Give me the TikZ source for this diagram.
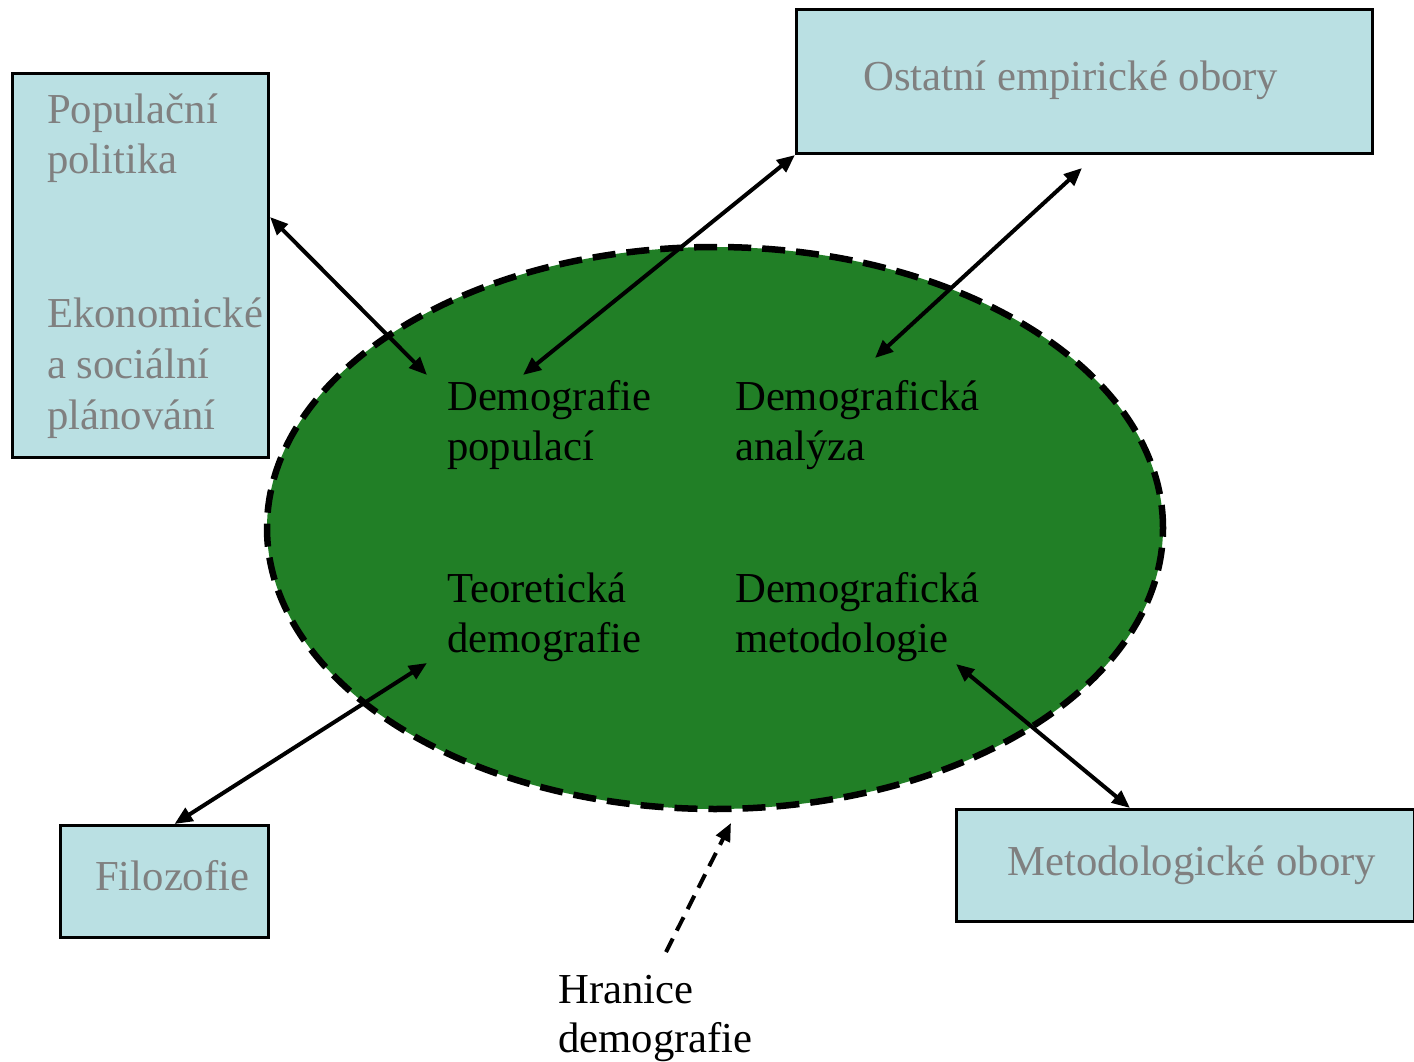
\documentclass[tikz,border=0pt]{standalone}
\usepackage{fontspec}
\setmainfont{Liberation Serif}
\usetikzlibrary{arrows.meta,shapes.geometric,calc}
\definecolor{boxfill}{RGB}{186,224,227}
\definecolor{graytext}{RGB}{128,128,128}
\definecolor{ellgreen}{RGB}{33,127,38}
\begin{document}
\begin{tikzpicture}[x=1pt,y=-1pt,
  fieldbox/.style={draw=black, line width=3pt, fill=boxfill, inner sep=0pt, anchor=north west},
  lbl/.style={anchor=base west, inner sep=0pt, align=left, font=\fontsize{42.7}{50}\selectfont},
  graylbl/.style={lbl, text=graytext},
  link/.style={line width=4pt, {Triangle[length=18pt,width=15pt]}-{Triangle[length=18pt,width=15pt]}},
  hint/.style={line width=4pt, dash pattern=on 15pt off 9pt, -{Triangle[length=18pt,width=15pt]}}
  ]
\useasboundingbox[fill=white] (0,0) rectangle (1414,1062);

% ellipse
\node[ellipse, draw=black, fill=ellgreen, line width=6.5pt, dash pattern=on 23pt off 11pt,
      minimum width=896pt, minimum height=562pt, inner sep=0pt] (ell) at (715,528) {};

% boxes
\node[fieldbox, minimum width=256pt, minimum height=384pt] (pp) at (11,72) {};
\node[fieldbox, minimum width=576pt, minimum height=144pt] (ost) at (795,8) {};
\node[fieldbox, minimum width=208pt, minimum height=112pt] (filo) at (59,824) {};
\node[fieldbox, minimum width=458pt, minimum height=112pt] (met) at (955,808) {};

% box texts (anchored at the baseline of their last line)
\node[graylbl, font=\fontsize{42.7}{51}\selectfont] (pp-t1) at (47,174) {Populační\\politika};
\node[graylbl, font=\fontsize{42.7}{51}\selectfont] (pp-t2) at (47,429) {Ekonomické\\a sociální\\plánování};
\node[graylbl] (ost-t) at (863,91) {Ostatní empirické obory};
\node[graylbl] (filo-t) at (95,890) {Filozofie};
\node[graylbl] (met-t) at (1007,875) {Metodologické obory};

% ellipse texts
\node[lbl] (dp) at (447,460) {Demografie\\populací};
\node[lbl] (da) at (735,460) {Demografická\\analýza};
\node[lbl] (td) at (447,652) {Teoretická\\demografie};
\node[lbl] (dm) at (735,652) {Demografická\\metodologie};
\node[lbl, font=\fontsize{42.7}{49}\selectfont] (hr) at (558,1052) {Hranice\\demografie};

% connector ends
\coordinate (a1) at (427,375);
\coordinate (a2) at (523,375);
\coordinate (a3) at (875,358);
\coordinate (a3top) at (1082,168);
\coordinate (a4) at (427,663);
\coordinate (a5) at (956,664);
\coordinate (hrtip) at (731,823);
\coordinate (hrtail) at (666,952);

% connectors
\draw[link] ($(pp.north east)+(0,145)$) -- (a1);
\draw[link] (ost.south west) -- (a2);
\draw[link] (a3top) -- (a3);
\draw[link] (a4) -- ($(filo.north)+(10,0)$);
\draw[link] (a5) -- ($(met.north west)+(175,0)$);
\draw[hint] (hrtail) -- (hrtip);
\end{tikzpicture}
\end{document}
